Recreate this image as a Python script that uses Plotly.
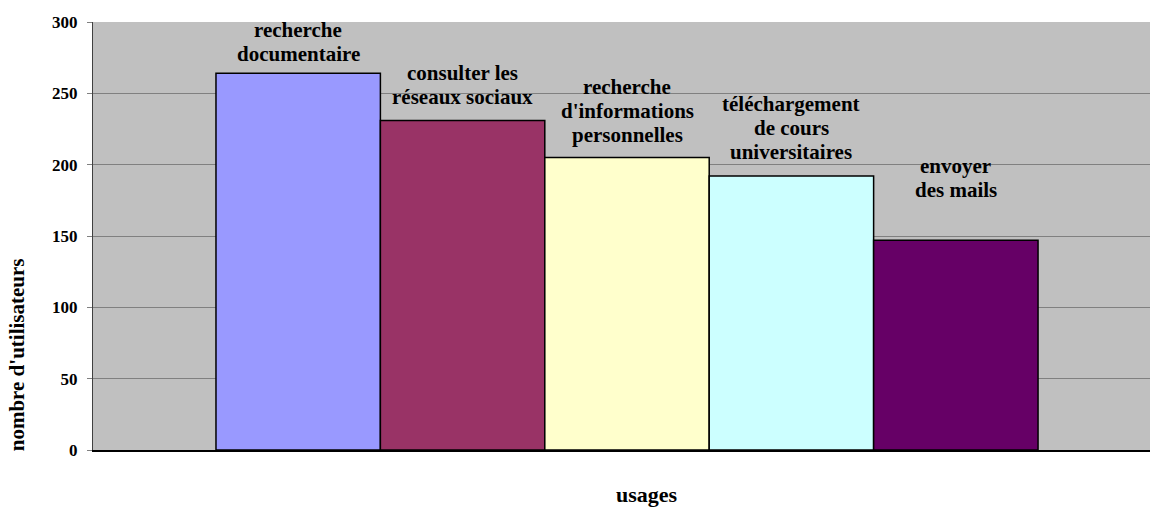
import plotly.graph_objects as go

# ---- data ----
categories = ["recherche documentaire", "consulter les réseaux sociaux",
              "recherche d'informations personnelles",
              "téléchargement de cours universitaires", "envoyer des mails"]
values = [264, 231, 205, 192, 147]
label_lines = [["recherche", "documentaire"],
               ["consulter les", "réseaux sociaux"],
               ["recherche", "d'informations", "personnelles"],
               ["téléchargement", "de cours", "universitaires"],
               ["envoyer", "des mails"]]
y_title = "nombre d'utilisateurs"
x_title = "usages"

# ---- styles ----
colors = ["#9999FF", "#993366", "#FFFFCC", "#CCFFFF", "#660066"]
label_shift = [31, 35, 47, 48, 62]   # px above bar top for label block centre
line_gap = 24
FONT = "Liberation Serif, Times New Roman, serif"

fig = go.Figure()
fig.add_trace(go.Bar(
    x=categories, y=values,
    marker=dict(color=colors, line=dict(color="black", width=1.5)),
    width=1, showlegend=False, hoverinfo="skip"))

annotations = []
for cat, val, lines, sh in zip(categories, values, label_lines, label_shift):
    n = len(lines)
    for i, ln in enumerate(lines):
        off = sh + ((n - 1) / 2 - i) * line_gap
        annotations.append(dict(
            x=cat, y=val, xref="x", yref="y", text=ln, showarrow=False,
            yshift=off, xanchor="center", yanchor="middle",
            font=dict(family=FONT, size=21, color="black", weight="bold")))

annotations.append(dict(
    x=-0.0724, y=0.2225, xref="paper", yref="paper", text=y_title,
    showarrow=False, textangle=-90, xanchor="center", yanchor="middle",
    font=dict(family=FONT, size=21, color="black", weight="bold")))
annotations.append(dict(
    x=0.524, y=-0.104, xref="paper", yref="paper", text=x_title,
    showarrow=False, xanchor="center", yanchor="middle",
    font=dict(family=FONT, size=22, color="black", weight="bold")))

fig.update_layout(
    width=1150, height=507,
    margin=dict(l=93, r=0, t=22, b=57),
    paper_bgcolor="white", plot_bgcolor="#C0C0C0",
    bargap=0,
    annotations=annotations,
    xaxis=dict(type="category", range=[-1.248, 5.181], showticklabels=False,
               ticks="", showgrid=False, zeroline=False,
               showline=True, linecolor="black", linewidth=2),
    yaxis=dict(range=[0, 300], dtick=50, showgrid=True, gridcolor="#808080",
               gridwidth=1, zeroline=False, showline=True, linecolor="#404040",
               linewidth=1, ticks="outside", ticklen=5, tickcolor="#808080",
               ticklabelstandoff=6,
               tickfont=dict(family=FONT, size=17, color="black", weight="bold")),
)

fig.write_html("out.html",
               config={"displayModeBar": False, "staticPlot": True},
               post_script="document.body.style.margin='0';document.body.style.overflow='hidden';")
